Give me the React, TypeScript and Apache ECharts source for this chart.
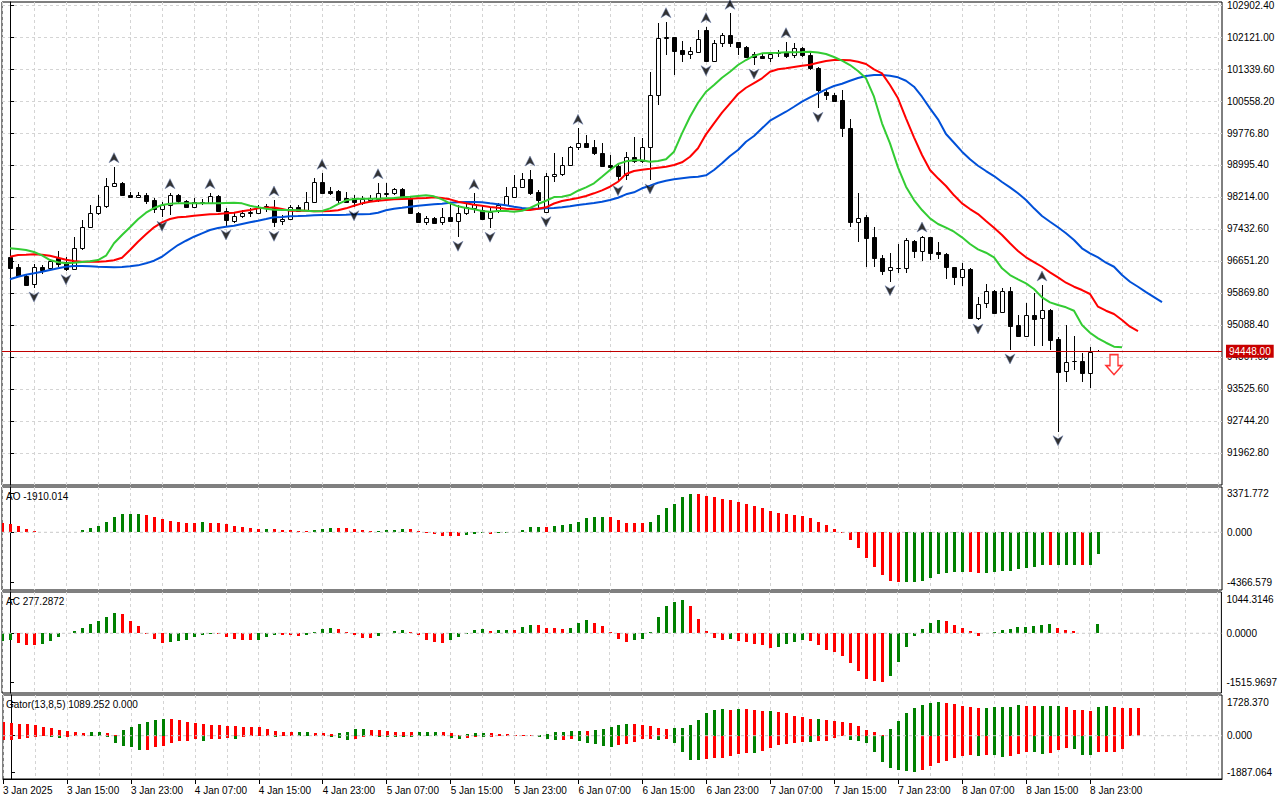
import React, { useEffect, useRef } from "react";
import * as echarts from "echarts";

// ---------- DATA ----------
const timeLabels = [
  "3 Jan 2025", "3 Jan 15:00", "3 Jan 23:00", "4 Jan 07:00", "4 Jan 15:00", "4 Jan 23:00",
  "5 Jan 07:00", "5 Jan 15:00", "5 Jan 23:00", "6 Jan 07:00", "6 Jan 15:00", "6 Jan 23:00",
  "7 Jan 07:00", "7 Jan 15:00", "7 Jan 23:00", "8 Jan 07:00", "8 Jan 15:00", "8 Jan 23:00",
];

const priceTicks = [
  91962.8, 92744.2, 93525.6, 94307.0, 95088.4, 95869.8, 96651.2, 97432.6,
  98214.0, 98995.4, 99776.8, 100558.2, 101339.6, 102121.0, 102902.4,
];

// [open, high, low, close] for hourly bars 0..136
const ohlc: number[][] = [
  [96741, 96879, 96472, 96488], [96513, 96578, 96252, 96285], [96285, 96309, 96049, 96065], [96090, 96578, 95990, 96497],
  [96497, 96554, 96334, 96431], [96472, 96700, 96448, 96659], [96716, 96895, 96513, 96578], [96635, 96757, 96415, 96448],
  [96448, 97245, 96431, 96960], [96960, 97652, 96920, 97473], [97473, 98019, 97449, 97815], [97815, 98263, 97774, 97994],
  [97994, 98670, 97937, 98483], [98483, 98955, 98450, 98548], [98564, 98588, 98238, 98263], [98263, 98344, 98181, 98206],
  [98206, 98344, 98181, 98263], [98263, 98303, 98043, 98124], [98141, 98181, 97815, 97913], [97913, 98100, 97718, 98019],
  [98019, 98320, 97774, 98263], [98263, 98290, 98059, 98116], [98116, 98141, 97937, 97962], [97978, 98181, 97953, 98100],
  [98059, 98155, 98019, 98100], [98076, 98320, 98059, 98238], [98238, 98263, 97856, 97880], [97880, 97937, 97506, 97652],
  [97636, 97856, 97587, 97750], [97750, 97897, 97693, 97831], [97831, 97937, 97734, 97856], [97831, 98019, 97799, 97937],
  [97937, 98043, 97856, 97994], [97978, 98141, 97473, 97612], [97628, 97774, 97530, 97677], [97669, 98019, 97652, 97978],
  [97978, 98019, 97856, 97880], [97897, 98344, 97880, 98100], [98100, 98670, 98076, 98572], [98572, 98792, 98303, 98320],
  [98368, 98466, 98263, 98320], [98368, 98385, 98076, 98141], [98181, 98344, 98076, 98100], [98181, 98263, 97978, 98084],
  [98076, 98238, 98019, 98157], [98141, 98263, 98100, 98181], [98157, 98564, 98100, 98303], [98290, 98548, 98222, 98310],
  [98303, 98442, 98263, 98401], [98401, 98442, 98157, 98181], [98181, 98222, 97799, 97815], [97831, 97856, 97587, 97612],
  [97612, 97750, 97530, 97693], [97693, 97734, 97571, 97587], [97595, 97937, 97530, 97718], [97718, 98059, 97612, 97628],
  [97636, 98019, 97229, 97815], [97815, 98100, 97774, 97978], [97937, 98303, 97815, 98035], [97897, 98019, 97652, 97669],
  [97693, 97937, 97449, 97856], [97897, 98059, 97815, 98019], [98019, 98466, 97994, 98238], [98222, 98751, 98206, 98466],
  [98466, 98792, 98450, 98645], [98645, 98873, 98263, 98303], [98328, 98385, 97937, 98141], [97856, 98792, 97831, 98727],
  [98727, 99280, 98588, 98775], [98775, 99199, 98727, 98995], [98995, 99460, 98970, 99443], [99443, 99890, 99362, 99541],
  [99541, 99728, 99403, 99443], [99443, 99606, 99240, 99280], [99280, 99524, 98954, 98970], [98995, 99240, 98873, 98954],
  [98970, 99036, 98588, 98727], [98751, 99321, 98629, 99199], [99199, 99687, 99036, 99093], [99093, 99646, 99036, 99443],
  [99443, 101274, 98629, 100705], [100705, 102455, 100461, 102088], [102088, 102496, 101682, 102113], [102113, 102129, 101193, 101788],
  [101804, 102023, 101519, 101706], [101706, 101885, 101576, 101779], [101763, 102292, 101722, 102064], [102292, 102373, 101519, 101543],
  [101543, 102048, 101535, 101966], [101966, 102210, 101869, 102170], [102170, 102699, 101885, 101982], [101990, 102007, 101682, 101869],
  [101869, 101901, 101600, 101641], [101698, 101763, 101437, 101641], [101657, 101722, 101576, 101600], [101600, 101763, 101519, 101706],
  [101722, 101804, 101641, 101763], [101763, 102007, 101600, 101657], [101682, 101966, 101600, 101845], [101845, 101885, 101641, 101682],
  [101682, 101722, 101315, 101356], [101356, 101397, 100379, 100827], [100786, 100827, 100583, 100705], [100705, 100745, 100542, 100567],
  [100583, 100827, 99687, 99891], [99891, 100110, 97489, 97611], [97611, 98303, 97123, 97693], [97733, 97774, 96513, 97220],
  [97245, 97489, 96513, 96716], [96716, 96797, 96309, 96415], [96431, 96854, 96146, 96496], [96472, 97066, 96350, 96488],
  [96472, 97204, 96366, 97164], [97139, 97164, 96732, 96903], [96903, 97261, 96659, 97229], [97229, 97245, 96675, 96854],
  [96879, 97123, 96700, 96814], [96822, 96838, 96203, 96497], [96497, 96513, 96057, 96252], [96252, 96610, 96049, 96447],
  [96447, 96472, 95226, 95251], [95251, 95780, 95210, 95609], [95617, 96089, 95495, 95918], [95918, 95943, 95373, 95389],
  [95397, 95983, 95389, 95918], [95918, 96024, 94478, 95071], [95088, 95332, 94803, 94819], [94827, 95617, 94803, 95332],
  [95332, 95861, 94575, 95234], [95251, 96065, 94584, 95455], [95455, 95471, 94478, 94722], [94738, 94803, 92483, 93949],
  [93965, 95088, 93704, 94193], [94209, 94820, 93989, 94217], [94209, 94396, 93704, 93924], [93924, 94559, 93541, 94429],
  [94448, 94480, 94420, 94448],
];

// Alligator lines (already shifted), starting at bar 0
const lips = [
  96961, 96944, 96919, 96870, 96790, 96675, 96619, 96594, 96609, 96626,
  96643, 96675, 96780, 97083, 97285, 97474, 97669, 97830, 97945, 98018,
  98050, 98059, 98059, 98059, 98059, 98059, 98059, 98067, 98074, 98059,
  98001, 97962, 97928, 97903, 97896, 97896, 97889, 97879, 97864, 97872,
  97937, 98042, 98133, 98165, 98172, 98172, 98172, 98182, 98189, 98206,
  98221, 98238, 98255, 98230, 98157, 98059, 97986, 97945, 97913, 97872,
  97855, 97872, 97872, 97855, 97879, 97945, 98042, 98123, 98213, 98221,
  98262, 98367, 98450, 98548, 98709, 98873, 99019, 99085, 99110, 99110,
  99075, 99093, 99134, 99320, 99769, 100174, 100516, 100785, 100948, 101127,
  101273, 101437, 101559, 101664, 101722, 101730, 101737, 101747, 101747, 101754,
  101762, 101742, 101705, 101632, 101542, 101437, 101290, 101112, 100663, 100013,
  99525, 98939, 98465, 98140, 97896, 97693, 97554, 97464, 97366, 97229,
  97066, 96936, 96853, 96741, 96472, 96309, 96204, 96106, 95967, 95764,
  95642, 95576, 95520, 95437, 95088, 94900, 94763, 94655, 94558, 94543,
];
const teeth = [
  96755, 96797, 96804, 96814, 96804, 96780, 96731, 96682, 96651, 96634,
  96634, 96634, 96643, 96668, 96731, 96919, 97122, 97303, 97474, 97595,
  97676, 97718, 97732, 97757, 97774, 97791, 97798, 97815, 97830, 97864,
  97896, 97937, 97950, 97960, 97920, 97879, 97879, 97879, 97864, 97864,
  97872, 97889, 97937, 98001, 98059, 98099, 98123, 98140, 98157, 98165,
  98172, 98182, 98189, 98206, 98189, 98157, 98099, 98059, 98025, 98001,
  97969, 97952, 97928, 97913, 97896, 97896, 97928, 97962, 98055, 98116,
  98152, 98189, 98238, 98304, 98377, 98465, 98587, 98775, 98848, 98880,
  98904, 98929, 98953, 98995, 99061, 99198, 99403, 99744, 100013, 100272,
  100502, 100729, 100882, 100997, 101112, 101273, 101332, 101356, 101388, 101420,
  101444, 101493, 101535, 101559, 101559, 101552, 101517, 101461, 101332, 101234,
  100948, 100624, 100135, 99671, 99239, 98873, 98670, 98482, 98255, 98059,
  97920, 97798, 97627, 97464, 97285, 97083, 96895, 96741, 96626, 96511,
  96374, 96253, 96121, 96023, 95942, 95845, 95535, 95437, 95356, 95210,
  95046, 94941,
];
const jaw = [
  96204, 96267, 96316, 96350, 96389, 96431, 96472, 96511, 96528, 96528,
  96521, 96511, 96504, 96496, 96504, 96521, 96545, 96594, 96658, 96755,
  96902, 97041, 97146, 97244, 97327, 97408, 97456, 97488, 97513, 97554,
  97595, 97635, 97676, 97718, 97725, 97742, 97749, 97757, 97766, 97774,
  97774, 97774, 97781, 97791, 97791, 97798, 97830, 97889, 97928, 97952,
  97977, 98001, 98018, 98035, 98050, 98074, 98084, 98091, 98091, 98084,
  98059, 98035, 98011, 97977, 97945, 97928, 97928, 97937, 97945, 97962,
  97986, 98018, 98042, 98067, 98099, 98140, 98196, 98279, 98328, 98426,
  98489, 98563, 98611, 98646, 98670, 98694, 98709, 98743, 98873, 99036,
  99215, 99361, 99564, 99703, 99891, 100077, 100191, 100296, 100418, 100541,
  100648, 100746, 100843, 100924, 100980, 101053, 101119, 101168, 101193, 101193,
  101176, 101137, 101053, 100907, 100663, 100379, 100111, 99752, 99539, 99320,
  99134, 98978, 98848, 98726, 98580, 98450, 98304, 98140, 97937, 97749,
  97610, 97474, 97327, 97163, 96961, 96838, 96741, 96609, 96511, 96309,
  96145, 96023, 95893, 95771, 95649,
];

const upFractals = [13, 20, 25, 33, 39, 46, 58, 65, 71, 82, 87, 90, 97, 114, 129];
const downFractals = [3, 7, 19, 27, 33, 43, 56, 60, 67, 76, 80, 87, 93, 101, 110, 121, 125, 131];

const currentPrice = 94448.0;
const sellSignal = { bar: 138, price: 94120 };

// Sub-window series start at bar -1
const SUB_START = -1;
const aoValues = [
  818, 758, 515, 303, 121, 61, 45, 50, 61, 65, 212,
  394, 576, 939, 1303, 1560, 1570, 1580, 1485, 1303, 1121,
  1000, 939, 848, 840, 855, 845, 835, 758, 576, 485,
  394, 303, 310, 300, 212, 205, 150, 121, 212, 303,
  394, 390, 385, 303, 212, 121, 125, 212, 215, 303,
  300, 121, -30, -150, -300, -330, -340, -220, -120, -90,
  -150, -40, -30, 20, 212, 425, 485, 480, 576, 667,
  758, 939, 1212, 1303, 1310, 1300, 1030, 848, 840, 835,
  939, 1485, 2121, 2485, 3030, 3371.772, 3330, 3121, 3030, 2939,
  2848, 2667, 2485, 2303, 2121, 1848, 1667, 1576, 1485, 1394,
  1212, 939, 667, 303, -45, -667, -1394, -2212, -3030, -3757,
  -4212, -4366.579, -4350, -4303, -4212, -3940, -3667, -3576, -3485, -3470,
  -3490, -3580, -3570, -3485, -3394, -3385, -3212, -3121, -3030, -2850,
  -2870, -2860, -2850, -2840, -2860, -2850, -1910.014,
];
const acValues = [
  -229, -208, -291, -364, -370, -333, -239, -104, 10, 73, 156,
  291, 385, 510, 634, 603, 385, 229, -31, -187, -291,
  -260, -239, -198, -104, -42, -21, -25, -104, -166, -208,
  -212, -205, -104, -42, -50, -62, -73, -42, 31, 135,
  166, 135, 42, -42, -135, -140, -73, 21, 73, 104,
  42, -62, -208, -260, -291, -208, -104, -10, 104, 135,
  73, 104, 108, 100, 198, 260, 255, 166, 160, 135,
  166, 322, 416, 322, 229, 31, -166, -260, -198, -166,
  31, 510, 853, 978, 1044.3146, 853, 447, 73, -135, -198,
  -166, -229, -260, -322, -354, -447, -416, -322, -260, -198,
  -229, -354, -510, -572, -697, -915, -1165, -1414, -1480, -1515.9697,
  -1321, -884, -416, -94, 135, 322, 416, 385, 260, 166,
  73, -73, 10, 42, 104, 135, 198, 200, 229, 260,
  291, 166, 104, 73, 15, 20, 277.2872,
];
const gatorUpper = [
  688, 654, 602, 598, 550, 447, 396, 275, 224, 172, 120,
  172, 175, 165, 60, 275, 447, 602, 705, 808, 860,
  855, 808, 705, 654, 602, 550, 548, 499, 495, 447,
  445, 443, 344, 224, 172, 170, 175, 180, 150, 140,
  103, 138, 206, 344, 350, 292, 290, 258, 206, 172,
  170, 175, 206, 210, 206, 138, 40, 69, 138, 140,
  138, 103, 69, 52, 34, 20, 30, 100, 172, 189,
  241, 245, 240, 310, 361, 447, 550, 602, 600, 550,
  499, 413, 361, 396, 400, 550, 808, 1170, 1324, 1376,
  1324, 1376, 1370, 1324, 1273, 1280, 1221, 1170, 1015, 963,
  860, 865, 808, 757, 705, 654, 499, 292, 189, 17,
  344, 757, 1170, 1428, 1582, 1686, 1728.37, 1686, 1634, 1531,
  1479, 1428, 1430, 1479, 1480, 1482, 1582, 1531, 1530, 1535,
  1537, 1540, 1479, 1324, 1320, 1273, 1479, 1531, 1479, 1428,
  1426, 1424,
];
const gatorLower = [
  -206, -206, -170, -120, -60, -20, -90, -100, -85, -40, -10,
  -15, -40, -90, -378, -516, -585, -722, -720, -602, -516,
  -378, -265, -258, -155, -258, -155, -150, -120, -155, -90,
  -40, -35, -40, -45, -35, -20, -10, -15, -30, -35,
  -86, -120, -206, -155, -86, -40, -60, -86, -87, -88,
  -90, -40, -20, -25, -40, -120, -155, -120, -86, -90,
  -86, -40, -20, -10, -20, -40, -86, -155, -206, -200,
  -155, -258, -378, -430, -516, -568, -482, -413, -327, -155,
  -150, -206, -155, -361, -843, -1238, -1240, -1187, -1135, -1130,
  -1032, -929, -877, -894, -774, -619, -499, -430, -361, -327,
  -330, -258, -255, -120, -34, -206, -258, -378, -843, -1359,
  -1668, -1789, -1823, -1887.064, -1771, -1548, -1410, -1307, -1152, -1032,
  -998, -1032, -998, -1000, -1100, -1066, -946, -860, -865, -946,
  -894, -740, -637, -688, -998, -1000, -843, -843, -840, -671,
];

const aoTicks = [3371.772, 0, -4366.579];
const acTicks = [1044.3146, 0, -1515.9697];
const gatorTicks = [1728.37, 0, -1887.064];

// ---------- STYLE / LAYOUT ----------
const FONT = "'Liberation Sans', Arial, sans-serif";
const GRID_LINE = "#d4d4d4";
const GREEN = "#008000";
const RED = "#ff0000";
const X_MIN = -1;
const X_MAX = 151.5;
const gridX = Array.from({ length: 39 }, (_, i) => X_MIN + 4 * i);
const labelX = timeLabels.map((_, i) => X_MIN + 8 * i);

function histData(values: number[], firstUp: boolean, absMode: boolean) {
  return values.map((v, i) => {
    let up = firstUp;
    if (i > 0) {
      const p = values[i - 1];
      up = absMode ? Math.abs(v) > Math.abs(p) : v > p;
    }
    return [SUB_START + i, v, up ? 1 : 0];
  });
}

function histSeries(idx: number, data: any[]) {
  return {
    type: "custom",
    xAxisIndex: idx,
    yAxisIndex: idx,
    clip: true,
    silent: true,
    encode: { x: 0, y: 1 },
    data,
    renderItem: (_p: any, api: any) => {
      const x = api.value(0);
      const v = api.value(1);
      const up = api.value(2);
      const p0 = api.coord([x, 0]);
      const p1 = api.coord([x, v]);
      const cx = Math.round(p0[0]);
      const y0 = Math.round(p0[1]);
      const y1 = Math.round(p1[1]);
      return {
        type: "rect",
        shape: { x: cx - 1, y: Math.min(y0, y1), width: 3, height: Math.abs(y1 - y0) },
        style: { fill: up ? GREEN : RED },
      };
    },
  };
}

function zeroLine(idx: number) {
  return {
    type: "line",
    xAxisIndex: idx,
    yAxisIndex: idx,
    silent: true,
    symbol: "none",
    data: [[X_MIN, 0], [X_MAX, 0]],
    lineStyle: { color: "#c8c8c8", width: 1, type: [3, 3] },
    z: 5,
  };
}

const gridBase = { left: 2, right: 58, show: true, borderColor: "#000", borderWidth: 1, backgroundColor: "#fff" };

function xAxisFor(idx: number) {
  return {
    type: "value",
    gridIndex: idx,
    min: X_MIN,
    max: X_MAX,
    axisLine: { show: false },
    axisTick: { show: false, customValues: gridX },
    axisLabel: { show: false },
    splitLine: { show: true, lineStyle: { color: GRID_LINE, type: [3, 3], width: 1 } },
  };
}

function subYAxis(idx: number, min: number, max: number, ticks: number[], digits: number, split: boolean) {
  return {
    type: "value",
    gridIndex: idx,
    position: "right",
    min,
    max,
    axisLine: { show: true, lineStyle: { color: "#000" } },
    axisTick: { show: true, length: 4, customValues: ticks, lineStyle: { color: "#000" } },
    axisLabel: {
      show: true,
      customValues: ticks,
      margin: 5,
      color: "#000",
      fontSize: 10,
      fontFamily: FONT,
      formatter: (v: number) => v.toFixed(digits),
    },
    splitLine: { show: split, lineStyle: { color: GRID_LINE, type: [3, 3], width: 1 } },
  };
}

const UP_ARROW = "path://M5,0 L10,10 L5,7 L0,10 Z";
const DOWN_ARROW = "path://M0,0 L5,3 L10,0 L5,10 Z";
const SELL_ARROW = "path://M4,0 L12,0 L12,11 L16,11 L8,20 L0,11 L4,11 Z";

export default function App() {
  const ref = useRef<HTMLDivElement>(null);

  useEffect(() => {
    document.body.style.margin = "0";
    if (!ref.current) return;
    const chart = echarts.init(ref.current, null, { renderer: "svg" });

    const candleData = ohlc.map(([o, h, l, c], i) => [i, o, c, l, h]);

    const option: any = {
      animation: false,
      backgroundColor: "#fff",
      textStyle: { fontFamily: FONT },
      grid: [
        { ...gridBase, top: 2, height: 483 },
        { ...gridBase, top: 487, height: 103 },
        { ...gridBase, top: 592, height: 101 },
        { ...gridBase, top: 695, height: 84 },
      ],
      xAxis: [
        xAxisFor(0),
        xAxisFor(1),
        xAxisFor(2),
        xAxisFor(3),
        {
          type: "value",
          gridIndex: 3,
          position: "bottom",
          min: X_MIN,
          max: X_MAX,
          axisLine: { show: true, lineStyle: { color: "#000" } },
          axisTick: { show: true, length: 5, customValues: labelX, lineStyle: { color: "#000" } },
          axisLabel: {
            show: true,
            customValues: labelX,
            align: "left",
            margin: 6,
            color: "#000",
            fontSize: 10,
            fontFamily: FONT,
            formatter: (v: number) => timeLabels[Math.round((v - X_MIN) / 8)] ?? "",
          },
          splitLine: { show: false },
        },
      ],
      yAxis: [
        {
          type: "value",
          gridIndex: 0,
          position: "right",
          min: 91181.3,
          max: 102975.7,
          axisLine: { show: true, lineStyle: { color: "#000" } },
          axisTick: { show: true, length: 4, customValues: priceTicks, lineStyle: { color: "#000" } },
          axisLabel: {
            show: true,
            customValues: priceTicks,
            margin: 5,
            color: "#000",
            fontSize: 10,
            fontFamily: FONT,
            formatter: (v: number) => v.toFixed(2),
          },
          splitLine: { show: true, lineStyle: { color: GRID_LINE, type: [3, 3], width: 1 } },
        },
        subYAxis(1, -5020, 3941, aoTicks, 3, false),
        subYAxis(2, -1851, 1280, acTicks, 4, false),
        subYAxis(3, -2234, 2100, gatorTicks, 3, false),
      ],
      graphic: [
        { type: "text", left: 6, top: 491, z: 100, style: { text: "AO -1910.014", fontSize: 10, fontFamily: FONT, fill: "#000" } },
        { type: "text", left: 6, top: 596, z: 100, style: { text: "AC 277.2872", fontSize: 10, fontFamily: FONT, fill: "#000" } },
        { type: "text", left: 6, top: 699, z: 100, style: { text: "Gator(13,8,5) 1089.252 0.000", fontSize: 10, fontFamily: FONT, fill: "#000" } },
      ],
      series: [
        {
          type: "custom",
          name: "candles",
          xAxisIndex: 0,
          yAxisIndex: 0,
          clip: true,
          silent: true,
          encode: { x: 0, y: [1, 2, 3, 4] },
          data: candleData,
          z: 2,
          renderItem: (_p: any, api: any) => {
            const x = api.value(0);
            const o = api.value(1);
            const c = api.value(2);
            const l = api.value(3);
            const h = api.value(4);
            const pO = api.coord([x, o]);
            const pC = api.coord([x, c]);
            const pL = api.coord([x, l]);
            const pH = api.coord([x, h]);
            const cx = Math.round(pO[0]) + 0.5;
            const top = Math.round(Math.min(pO[1], pC[1])) + 0.5;
            const bot = Math.round(Math.max(pO[1], pC[1])) + 0.5;
            const bull = c >= o;
            return {
              type: "group",
              children: [
                {
                  type: "line",
                  shape: { x1: cx, y1: Math.round(pH[1]), x2: cx, y2: Math.round(pL[1]) },
                  style: { stroke: "#000", lineWidth: 1 },
                },
                {
                  type: "rect",
                  shape: { x: cx - 2, y: top, width: 4, height: Math.max(bot - top, 0) },
                  style: { fill: bull ? "#fff" : "#000", stroke: "#000", lineWidth: 1 },
                },
              ],
            };
          },
        },
        {
          type: "line",
          name: "jaw",
          xAxisIndex: 0,
          yAxisIndex: 0,
          silent: true,
          symbol: "none",
          data: jaw.map((v, i) => [i, v]),
          lineStyle: { color: "#0050d8", width: 2 },
          z: 3,
          markLine: {
            silent: true,
            symbol: ["none", "none"],
            data: [{ yAxis: currentPrice }],
            lineStyle: { color: "#c00000", width: 1, type: "solid" },
            label: {
              show: true,
              position: "end",
              formatter: currentPrice.toFixed(2),
              backgroundColor: "#c80000",
              color: "#fff",
              padding: [2, 3, 1, 3],
              fontSize: 10,
              fontFamily: FONT,
              distance: 4,
            },
          },
        },
        {
          type: "line",
          name: "teeth",
          xAxisIndex: 0,
          yAxisIndex: 0,
          silent: true,
          symbol: "none",
          data: teeth.map((v, i) => [i, v]),
          lineStyle: { color: "#ff0000", width: 2 },
          z: 3,
        },
        {
          type: "line",
          name: "lips",
          xAxisIndex: 0,
          yAxisIndex: 0,
          silent: true,
          symbol: "none",
          data: lips.map((v, i) => [i, v]),
          lineStyle: { color: "#33cc33", width: 2 },
          z: 3,
        },
        {
          type: "scatter",
          name: "fractalUp",
          xAxisIndex: 0,
          yAxisIndex: 0,
          silent: true,
          symbol: UP_ARROW,
          symbolSize: [10, 10],
          symbolOffset: [0, -9],
          data: upFractals.map((k) => [k, ohlc[k][1]]),
          itemStyle: { color: "#000", borderColor: "#6a7fb0", borderWidth: 0.6 },
          z: 4,
        },
        {
          type: "scatter",
          name: "fractalDown",
          xAxisIndex: 0,
          yAxisIndex: 0,
          silent: true,
          symbol: DOWN_ARROW,
          symbolSize: [10, 10],
          symbolOffset: [0, 9],
          data: downFractals.map((k) => [k, ohlc[k][2]]),
          itemStyle: { color: "#000", borderColor: "#6a7fb0", borderWidth: 0.6 },
          z: 4,
        },
        {
          type: "scatter",
          name: "sell",
          xAxisIndex: 0,
          yAxisIndex: 0,
          silent: true,
          symbol: SELL_ARROW,
          symbolSize: [16, 20],
          data: [[sellSignal.bar, sellSignal.price]],
          itemStyle: { color: "#fff", borderColor: "#ff0000", borderWidth: 1.5 },
          z: 4,
        },
        histSeries(1, histData(aoValues, false, false)),
        zeroLine(1),
        histSeries(2, histData(acValues, true, false)),
        zeroLine(2),
        histSeries(3, histData(gatorUpper, false, false)),
        histSeries(3, histData(gatorLower, false, true)),
        zeroLine(3),
      ],
    };

    chart.setOption(option);
    return () => {
      chart.dispose();
    };
  }, []);

  return <div ref={ref} style={{ width: 1280, height: 800 }} />;
}
